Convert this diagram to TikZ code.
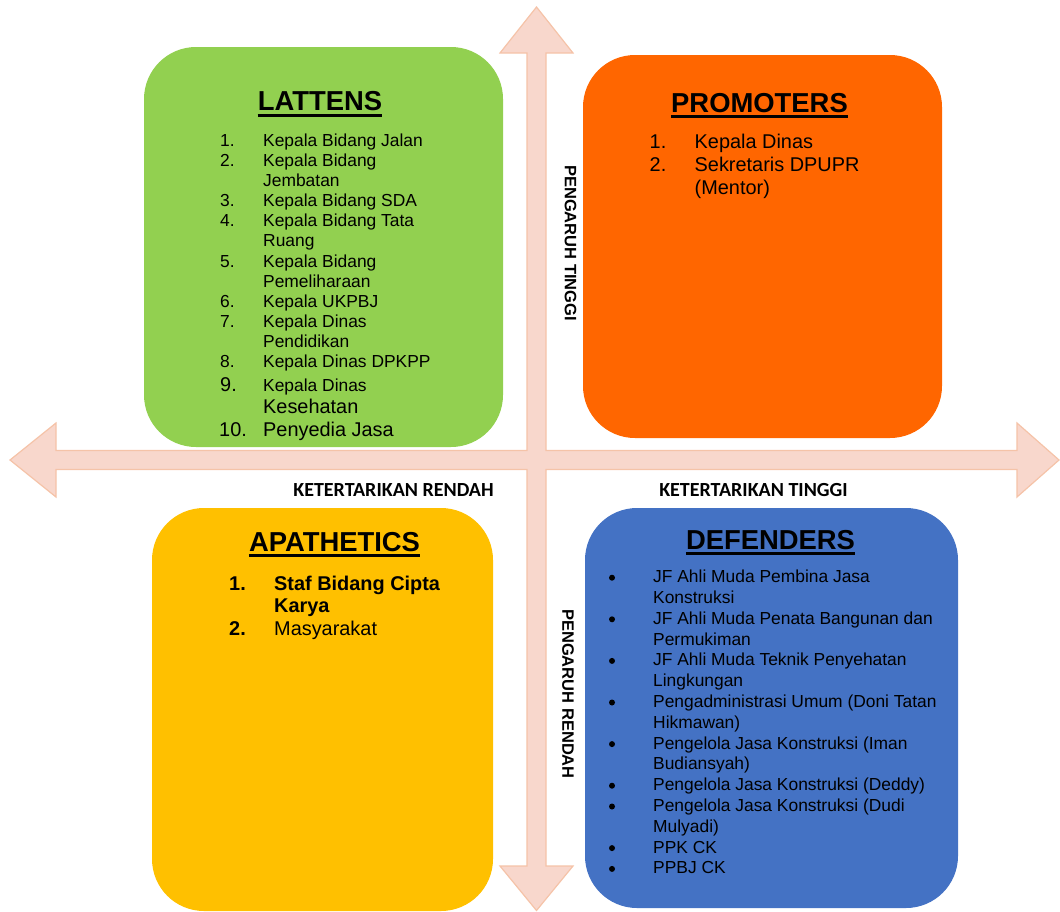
\documentclass[tikz,border=0pt]{standalone}
\usepackage{fontspec}
\setmainfont{Liberation Sans}
\newfontfamily\axisfont{Carlito}
\definecolor{qgreen}{HTML}{92D050}
\definecolor{qorange}{HTML}{FF6600}
\definecolor{qyellow}{HTML}{FFC000}
\definecolor{qblue}{HTML}{4472C4}
\definecolor{axfill}{HTML}{F8D7CC}
\definecolor{axline}{HTML}{F5C3A8}
\begin{document}
\begin{tikzpicture}[x=1pt,y=-1pt,
  quad/.style={rounded corners=52pt, draw=none},
  ttl/.style={anchor=base, inner sep=0, font=\bfseries\fontsize{27.4}{30}\selectfont},
  txt/.style={anchor=base west, inner sep=0, font=\fontsize{17.4}{20}\selectfont},
  big/.style={anchor=base west, inner sep=0, font=\fontsize{19.9}{23}\selectfont},
  bigb/.style={anchor=base west, inner sep=0, font=\bfseries\fontsize{19.9}{23}\selectfont},
  axh/.style={anchor=base, inner sep=0, font=\axisfont\bfseries\fontsize{20}{22}\selectfont},
  axv/.style={inner sep=0, rotate=-90, font=\bfseries\fontsize{16.5}{18}\selectfont},
  dot/.style={circle, fill=black, inner sep=0, minimum size=6pt},
  uline/.style={line width=3pt},
]
\useasboundingbox (0,0) rectangle (1060,911);

% quadrant panels
\fill[qgreen, quad]  (144,47)  rectangle (503,447);
\fill[qorange, quad] (583,55)  rectangle (942,438);
\fill[qyellow, quad] (152,508) rectangle (493,911);
\fill[qblue, quad]   (585,508) rectangle (958,908);

% axis cross with four arrow heads
\filldraw[fill=axfill, draw=axline, line width=1.2pt, line join=miter]
  (536.5,7) -- (573,53) -- (546,53) -- (546,450.5) -- (1017,450.5) -- (1017,423)
  -- (1059,460) -- (1017,497) -- (1017,469.5) -- (546,469.5) -- (546,866)
  -- (573,866) -- (536.5,910.5) -- (500,866) -- (527,866) -- (527,469.5)
  -- (56,469.5) -- (56,497) -- (10,460) -- (56,423) -- (56,450.5)
  -- (527,450.5) -- (527,53) -- (500,53) -- cycle;

% axis labels
\node[axh] (xlo) at (393.5,496.5) {KETERTARIKAN RENDAH};
\node[axh] (xhi) at (753.5,496.5) {KETERTARIKAN TINGGI};
\node[axv] (yhi) at (570.5,243) {PENGARUH TINGGI};
\node[axv] (ylo) at (568,694) {PENGARUH RENDAH};

% titles
\node[ttl] (tl) at (320,110.5) {LATTENS};
\node[ttl] (tp) at (759.5,112) {PROMOTERS};
\node[ttl] (ta) at (334.5,551) {APATHETICS};
\node[ttl] (td) at (770.5,549) {DEFENDERS};
\foreach \t in {tl,tp,ta,td}
  \draw[uline] ([yshift=-4.7pt]\t.base west) -- ([yshift=-4.7pt]\t.base east);

% LATTENS list
\node[txt] (ln1) at (220,146.5) {1.};  \node[txt] (lt1)  at (263,146.5) {Kepala Bidang Jalan};
\node[txt] (ln2) at (220,166.7) {2.};  \node[txt] (lt2)  at (263,166.7) {Kepala Bidang};
                                       \node[txt] (lt2b) at (263,186.5) {Jembatan};
\node[txt] (ln3) at (220,206.7) {3.};  \node[txt] (lt3)  at (263,206.7) {Kepala Bidang SDA};
\node[txt] (ln4) at (220,226.7) {4.};  \node[txt] (lt4)  at (263,226.7) {Kepala Bidang Tata};
                                       \node[txt] (lt4b) at (263,246.7) {Ruang};
\node[txt] (ln5) at (220,267.2) {5.};  \node[txt] (lt5)  at (263,267.2) {Kepala Bidang};
                                       \node[txt] (lt5b) at (263,287.3) {Pemeliharaan};
\node[txt] (ln6) at (220,307.7) {6.};  \node[txt] (lt6)  at (263,307.7) {Kepala UKPBJ};
\node[txt] (ln7) at (220,327.7) {7.};  \node[txt] (lt7)  at (263,327.7) {Kepala Dinas};
                                       \node[txt] (lt7b) at (263,347.3) {Pendidikan};
\node[txt] (ln8) at (220,367.7) {8.};  \node[txt] (lt8)  at (263,367.7) {Kepala Dinas DPKPP};
\node[big] (ln9) at (220,391.7) {9.};  \node[txt] (lt9)  at (263,391.7) {Kepala Dinas};
                                       \node[big] (lt9b) at (263,413.3) {Kesehatan};
\node[big] (ln10) at (219,436) {10.};  \node[big] (lt10) at (263,436) {Penyedia Jasa};

% PROMOTERS list
\node[big] (pn1) at (649.5,148.3) {1.}; \node[big] (pt1)  at (694.5,148.3) {Kepala Dinas};
\node[big] (pn2) at (649.5,171.5) {2.}; \node[big] (pt2)  at (694.5,171.5) {Sekretaris DPUPR};
                                        \node[big] (pt2b) at (694.5,194.3) {(Mentor)};

% APATHETICS list
\node[bigb] (an1) at (229,590) {1.}; \node[bigb] (at1)  at (274,590) {Staf Bidang Cipta};
                                     \node[bigb] (at1b) at (274,612.5) {Karya};
\node[bigb] (an2) at (229,635) {2.}; \node[big]  (at2)  at (274,635) {Masyarakat};

% DEFENDERS list
\foreach \t [count=\i from 0] in {
    JF Ahli Muda Pembina Jasa, Konstruksi,
    JF Ahli Muda Penata Bangunan dan, Permukiman,
    JF Ahli Muda Teknik Penyehatan, Lingkungan,
    Pengadministrasi Umum (Doni Tatan, Hikmawan),
    Pengelola Jasa Konstruksi (Iman, Budiansyah),
    Pengelola Jasa Konstruksi (Deddy),
    Pengelola Jasa Konstruksi (Dudi, Mulyadi),
    PPK CK, PPBJ CK}
  \node[txt] (dt\i) at (653,582.7+20.8*\i) {\t};
\foreach \i in {0,2,4,6,8,10,11,13,14}
  \node[dot] (db\i) at (612,582.7+20.8*\i-5) {};
\end{tikzpicture}
\end{document}
